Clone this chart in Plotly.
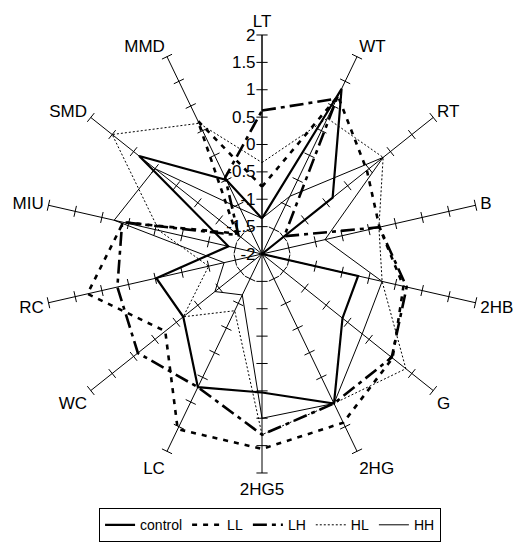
import plotly.graph_objects as go

categories = ["LT", "WT", "RT", "B", "2HB", "G", "2HG", "2HG5", "LC", "WC", "RC", "MIU", "SMD", "MMD"]
tick_values = [-2, -1.5, -1, -0.5, 0, 0.5, 1, 1.5, 2]
tick_labels = ["-2", "-1.5", "-1", "-0.5", "0", "0.5", "1", "1.5", "2"]

control = [-1.35, 1.35, -0.35, -2.0, -0.2, -0.12, 1.03, 0.53, 0.7, -0.16, -0.02, -1.37, 0.87, -0.5]
LL = [-0.77, 1.2, 0.45, 0.2, 0.65, 1.05, 1.42, 1.56, 1.55, 0.26, 1.27, 0.6, -1.4, 0.7]
LH = [0.62, 1.15, -1.48, 0.2, 0.71, 1.03, 1.03, 1.3, 0.7, 0.9, 0.71, 0.62, -1.45, -0.45]
HL = [-0.33, 0.75, 0.83, 0.19, 0.25, 1.36, 1.03, 1.3, -0.85, -0.16, -1.0, -0.07, 1.5, 0.65]
HH = [-1.35, -0.83, 0.83, -0.82, 0.25, 0.34, 1.03, 1.0, -1.17, -0.9, -1.29, 0.77, 0.5, -1.08]

series = [
    ("control", control, dict(color="black", width=2.2, dash="solid")),
    ("LL", LL, dict(color="black", width=2.6, dash="5px,6px")),
    ("LH", LH, dict(color="black", width=2.6, dash="14px,5px,4px,5px")),
    ("HL", HL, dict(color="black", width=1, dash="2px,2px")),
    ("HH", HH, dict(color="black", width=1, dash="solid")),
]

fig = go.Figure()

# tick marks across every spoke
n = len(categories)
tk_theta, tk_r, tk_ang = [], [], []
for i, c in enumerate(categories):
    for v in tick_values[1:]:
        tk_theta.append(c)
        tk_r.append(v)
        tk_ang.append(i * 360.0 / n)
fig.add_trace(go.Scatterpolar(
    theta=tk_theta, r=tk_r, mode="markers", showlegend=False, hoverinfo="skip",
    marker=dict(symbol="line-ew", size=8, angle=tk_ang,
                line=dict(color="black", width=1)),
))

for name, vals, ln in series:
    fig.add_trace(go.Scatterpolar(
        theta=categories + categories[:1], r=vals + vals[:1],
        mode="lines", name=name, line=ln,
    ))

fig.update_layout(
    width=521, height=553,
    margin=dict(l=0, r=0, t=0, b=0),
    paper_bgcolor="white",
    font=dict(family="Liberation Sans, Arial, sans-serif", size=17, color="black"),
    polar=dict(
        domain=dict(x=[0.0672, 0.9079], y=[0.1591, 0.9512]),
        bgcolor="white",
        angularaxis=dict(
            type="category", categoryarray=categories, direction="clockwise",
            rotation=90, showline=False, showgrid=True, gridcolor="black",
            gridwidth=1, ticks="outside", ticklen=1, tickcolor="rgba(0,0,0,0)",
            tickfont=dict(size=17),
        ),
        radialaxis=dict(
            range=[-2, 2], angle=90, side="counterclockwise",
            tickvals=tick_values, ticktext=tick_labels, ticks="",
            showgrid=False, showline=True, linecolor="black", linewidth=1,
            tickfont=dict(size=17), tickangle=90,
        ),
    ),
    legend=dict(
        orientation="h", x=0.503, xanchor="center", y=0.034, yanchor="bottom",
        bordercolor="black", borderwidth=1, font=dict(size=14),
        itemwidth=30,
    ),
)

fig.write_html("out.html")
